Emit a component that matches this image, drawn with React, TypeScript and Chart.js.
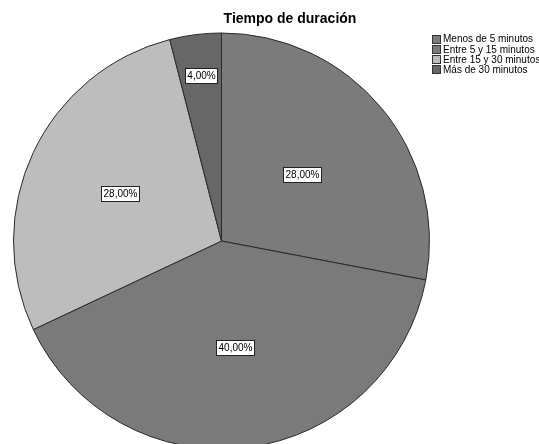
import React, { useEffect, useRef } from "react";
import { Chart, registerables } from "chart.js";

Chart.register(...registerables);

const TITLE = "Tiempo de duración";
const categories = ["Menos de 5 minutos", "Entre 5 y 15 minutos", "Entre 15 y 30 minutos", "Más de 30 minutos"];
const percentages = [28, 40, 28, 4];
const sliceColors = ["#7b7b7b", "#7a7a7a", "#bdbdbd", "#676767"];
const labelRadiusFractions = [0.5, 0.515, 0.54, 0.8];

const FONT = "'Liberation Sans', Arial, sans-serif";

function fmt(v: number) {
  return v.toFixed(2).replace(".", ",") + "%";
}

const overlayPlugin = {
  id: "overlay",
  afterDatasetsDraw(chart: any) {
    const ctx = chart.ctx as CanvasRenderingContext2D;
    const meta = chart.getDatasetMeta(0);
    ctx.save();
    // slice labels
    ctx.font = `10px ${FONT}`;
    ctx.textAlign = "center";
    ctx.textBaseline = "middle";
    meta.data.forEach((arc: any, i: number) => {
      const mid = (arc.startAngle + arc.endAngle) / 2;
      const r = arc.outerRadius * labelRadiusFractions[i];
      const x = arc.x + Math.cos(mid) * r;
      const y = arc.y + Math.sin(mid) * r;
      const text = fmt(percentages[i]);
      const w = Math.round(ctx.measureText(text).width) + 4;
      const h = 15;
      const bx = Math.round(x - w / 2) + 0.5;
      const by = Math.round(y - h / 2) + 0.5;
      ctx.fillStyle = "#ffffff";
      ctx.fillRect(bx, by, w, h);
      ctx.strokeStyle = "#222222";
      ctx.lineWidth = 1;
      ctx.strokeRect(bx, by, w, h);
      ctx.fillStyle = "#000000";
      ctx.fillText(text, bx + w / 2, by + h / 2 + 0.5);
    });
    // title
    ctx.font = `bold 14px ${FONT}`;
    ctx.fillStyle = "#000000";
    ctx.textAlign = "center";
    ctx.fillText(TITLE, 290, 19);
    // legend
    ctx.font = `10px ${FONT}`;
    ctx.textAlign = "left";
    categories.forEach((c, i) => {
      const y = 39 + i * 10.3;
      const sy = Math.round(y - 4.5) + 0.5;
      ctx.fillStyle = sliceColors[i];
      ctx.fillRect(432.5, sy, 8, 8);
      ctx.strokeStyle = "#333333";
      ctx.strokeRect(432.5, sy, 8, 8);
      ctx.fillStyle = "#000000";
      ctx.fillText(c, 443, y + 0.5);
    });
    ctx.restore();
  },
};

export default function App() {
  const ref = useRef<HTMLCanvasElement>(null);
  useEffect(() => {
    if (!ref.current) return;
    const chart = new Chart(ref.current, {
      type: "pie",
      data: {
        labels: categories,
        datasets: [
          {
            data: percentages,
            backgroundColor: sliceColors,
            borderColor: "#2a2a2a",
            borderWidth: 1,
            hoverOffset: 0,
            radius: 208,
          } as any,
        ],
      },
      options: {
        animation: false,
        responsive: false,
        events: [],
        layout: { padding: { left: 0, right: 96, top: 22, bottom: 0 } },
        plugins: {
          legend: { display: false },
          title: { display: false },
          tooltip: { enabled: false },
        },
      },
      plugins: [overlayPlugin],
    });
    return () => chart.destroy();
  }, []);
  return (
    <div
      style={{
        position: "fixed",
        left: 0,
        top: 0,
        width: 539,
        height: 444,
        overflow: "hidden",
        background: "#ffffff",
      }}
    >
      <canvas ref={ref} width={539} height={460} style={{ display: "block", width: 539, height: 460 }} />
    </div>
  );
}
